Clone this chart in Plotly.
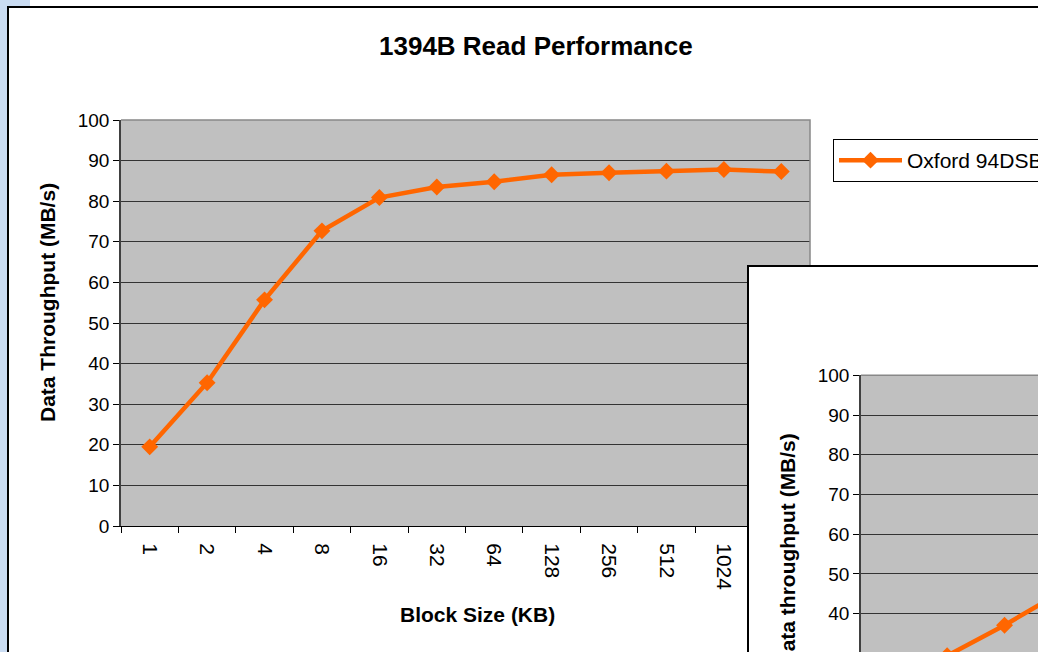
import plotly.graph_objects as go

W, H = 1038, 652

# ---- data ----
block_sizes = ["1", "2", "4", "8", "16", "32", "64", "128", "256", "512", "1024", "2048"]
read_throughput = [19.5, 35.3, 55.7, 72.7, 80.9, 83.5, 84.8, 86.5, 87.0, 87.4, 87.8, 87.3]
series_name = "Oxford 94DSB"

# second (partially visible, overlapping) chart
second_sizes = ["2", "4", "8"]
second_throughput = [29.4, 37.1, 45.6]

y_ticks = [0, 10, 20, 30, 40, 50, 60, 70, 80, 90, 100]

ORANGE = "#FF6600"
PLOT_BG = "#C0C0C0"
GRID = "#333333"
FONT = "Liberation Sans, Arial, sans-serif"


def px(x):
    return x / W


def py(y):
    return 1 - y / H


fig = go.Figure()

fig.add_trace(go.Scatter(
    x=block_sizes, y=read_throughput, name=series_name,
    mode="lines+markers",
    line=dict(color=ORANGE, width=4.5),
    marker=dict(symbol="diamond", size=13, color=ORANGE),
    xaxis="x", yaxis="y", cliponaxis=False,
))

fig.add_trace(go.Scatter(
    x=second_sizes, y=second_throughput, name="second",
    mode="lines+markers", showlegend=False,
    line=dict(color=ORANGE, width=4.5),
    marker=dict(symbol="diamond", size=13, color=ORANGE),
    xaxis="x2", yaxis="y2",
))

# main plot area: x 121..810, y 120..526
main_x0, main_x1, main_y0, main_y1 = 121, 810, 120, 526
# second plot area: left 861, top 375.3
sec_x0, sec_y0 = 861, 375.3
sec_unit = 3.973  # px per MB/s
sec_bottom_val = 100 - (H - sec_y0) / sec_unit
cat_w = (main_x1 - main_x0) / len(block_sizes)
sec_right_idx = -0.5 + (W - sec_x0) / cat_w

fig.update_layout(
    width=W, height=H, autosize=False,
    margin=dict(l=0, r=0, t=0, b=0, pad=0, autoexpand=False),
    paper_bgcolor="white",
    plot_bgcolor=PLOT_BG,
    font=dict(family=FONT, size=19, color="black"),
    showlegend=True,
    legend=dict(
        x=px(833), y=py(139), xanchor="left", yanchor="top",
        bordercolor="black", borderwidth=1, bgcolor="white",
        font=dict(size=21, family=FONT),
        itemwidth=63,
    ),
    xaxis=dict(
        domain=[px(main_x0), px(main_x1)], automargin=False,
        type="category", categoryorder="array", categoryarray=block_sizes,
        range=[-0.5, len(block_sizes) - 0.5],
        tickson="boundaries", ticks="outside", ticklen=6, tickcolor="black",
        tickangle=90, showline=True, linecolor="black", linewidth=1,
        showgrid=False, tickfont=dict(size=21), anchor="y",
        ticklabelstandoff=12,
    ),
    yaxis=dict(
        domain=[py(main_y1), py(main_y0)], automargin=False,
        range=[0, 100], tickvals=y_ticks, ticks="outside", ticklen=6,
        tickcolor="black", showline=True, linecolor="#404040", linewidth=1.5,
        showgrid=True, gridcolor=GRID, gridwidth=1, zeroline=False,
        tickfont=dict(size=19), anchor="x",
    ),
    xaxis2=dict(
        domain=[px(sec_x0), 1], automargin=False,
        type="category", categoryorder="array", categoryarray=block_sizes,
        range=[-0.5, sec_right_idx],
        showticklabels=False, ticks="", showline=False, showgrid=False,
        anchor="y2",
    ),
    yaxis2=dict(
        domain=[0, py(sec_y0)], automargin=False,
        range=[sec_bottom_val, 100], tickvals=y_ticks, ticks="outside", ticklen=6,
        tickcolor="black", showline=True, linecolor="#404040", linewidth=1.5,
        showgrid=True, gridcolor=GRID, gridwidth=1, zeroline=False,
        tickfont=dict(size=19), anchor="x2",
    ),
)

shapes = []
# light blue window edge
shapes.append(dict(type="rect", xref="paper", yref="paper", x0=0, x1=px(30), y0=py(0), y1=py(6),
                   fillcolor="#CADCF2", line=dict(width=0), layer="below"))
shapes.append(dict(type="rect", xref="paper", yref="paper", x0=0, x1=px(7), y0=0, y1=1,
                   fillcolor="#CADCF2", line=dict(width=0), layer="below"))
# main chart outer border
shapes.append(dict(type="path", xref="paper", yref="paper",
                   path=f"M {px(8)} {py(H + 5)} L {px(8)} {py(7)} L {px(W + 5)} {py(7)}",
                   line=dict(color="black", width=2)))
# main plot area grey border top/right
shapes.append(dict(type="path", xref="paper", yref="paper",
                   path=f"M {px(main_x0)} {py(main_y0)} L {px(main_x1)} {py(main_y0)} L {px(main_x1)} {py(main_y1)}",
                   line=dict(color="#888888", width=1.5), layer="above"))
# second chart box (white cover + border)
shapes.append(dict(type="rect", xref="paper", yref="paper", x0=px(748), x1=px(813), y0=py(H + 5), y1=py(266),
                   fillcolor="white", line=dict(width=0), layer="above"))
shapes.append(dict(type="path", xref="paper", yref="paper",
                   path=f"M {px(748)} {py(H + 5)} L {px(748)} {py(266)} L {px(W + 5)} {py(266)}",
                   line=dict(color="black", width=2), layer="above"))
# second plot area grey top border
shapes.append(dict(type="line", xref="paper", yref="paper", x0=px(sec_x0), x1=1, y0=py(sec_y0), y1=py(sec_y0),
                   line=dict(color="#888888", width=1.5), layer="above"))
fig.update_layout(shapes=shapes)

annotations = [
    dict(text="<b>1394B Read Performance</b>", xref="paper", yref="paper",
         x=px(536), y=py(46), xanchor="center", yanchor="middle", showarrow=False,
         font=dict(size=26, family=FONT)),
    dict(text="<b>Block Size (KB)</b>", xref="paper", yref="paper",
         x=px(477), y=py(614), xanchor="center", yanchor="middle", showarrow=False,
         font=dict(size=21, family=FONT)),
    dict(text="<b>Data Throughput (MB/s)</b>", xref="paper", yref="paper",
         x=px(47), y=py(303), xanchor="center", yanchor="middle", textangle=-90, showarrow=False,
         font=dict(size=21, family=FONT)),
    dict(text="<b>Data throughput (MB/s)</b>", xref="paper", yref="paper",
         x=px(787), y=py(432), xanchor="center", yanchor="top", textangle=-90, showarrow=False,
         font=dict(size=21, family=FONT)),
]
fig.update_layout(annotations=annotations)

post = ("document.body.style.margin='0';document.body.style.padding='0';"
        "var gd=document.getElementById('{plot_id}');"
        "gd.style.position='absolute';gd.style.left='0px';gd.style.top='0px';")
fig.write_html("out.html", post_script=post, config={"displayModeBar": False})
